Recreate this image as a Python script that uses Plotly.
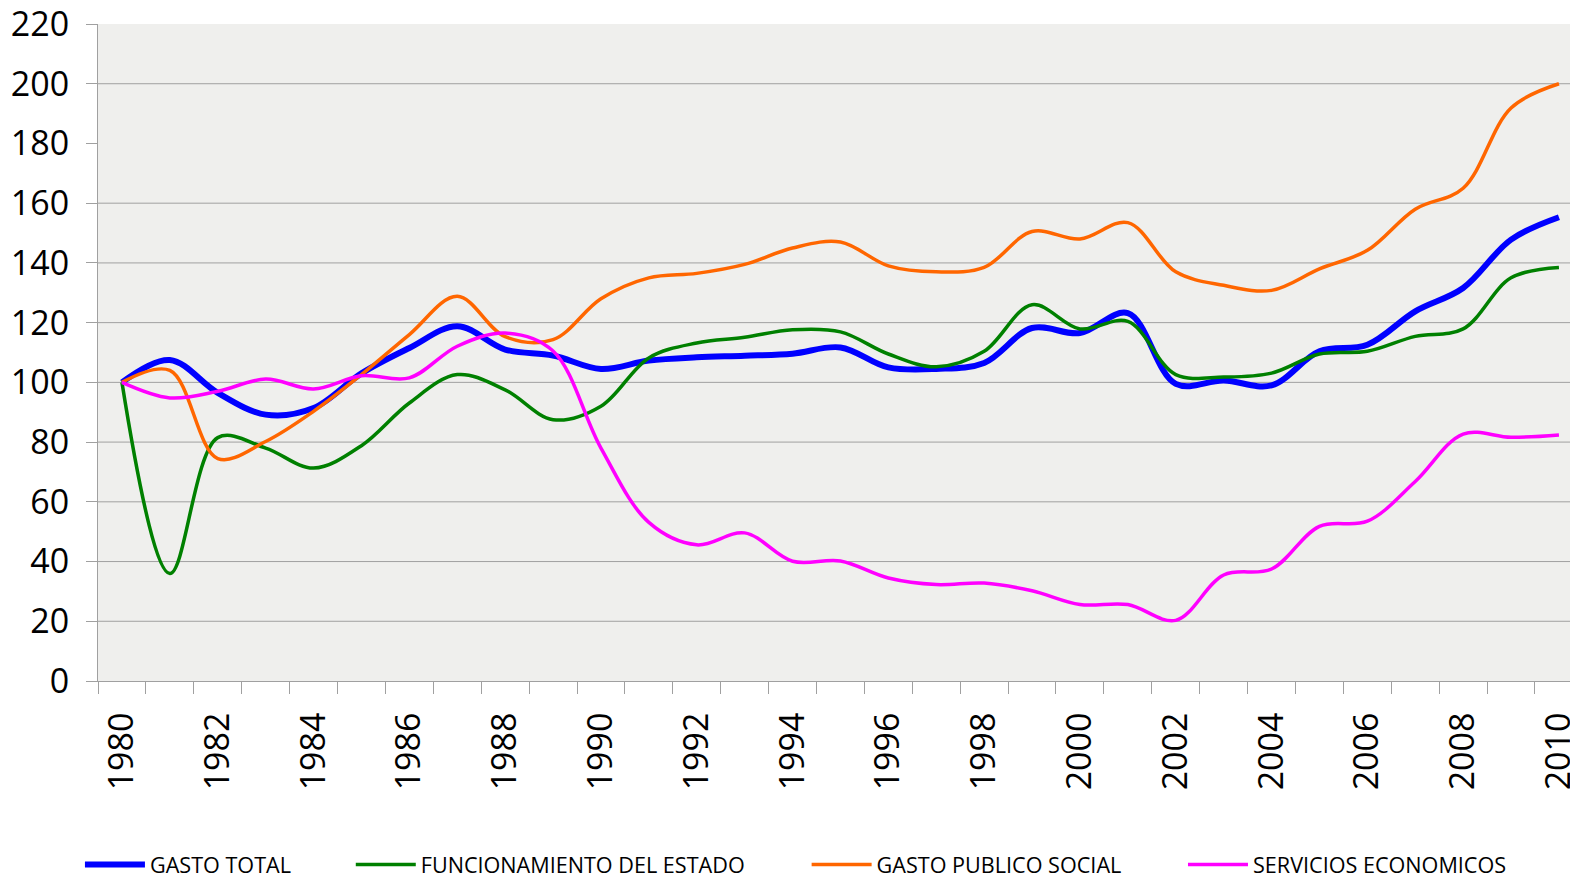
import plotly.graph_objects as go

years = list(range(1980, 2011))
year_labels = [str(y) for y in range(1980, 2011, 2)]

gasto_total = [100, 107.5, 96.5, 89.2, 91.4, 103, 111.5, 118.8, 111, 109,
               104.5, 107.3, 108.4, 108.9, 109.6, 111.7, 105, 104.5, 106.5, 118.2,
               116.5, 123.2, 99.5, 100.6, 99, 110.4, 112.6, 123.8, 131.6, 147.8, 155.3]
funcionamiento = [100, 36, 81.5, 78, 71.3, 78.8, 93.1, 102.6, 97.5, 87.5,
                  92, 108.2, 113.2, 115.1, 117.6, 116.9, 109.5, 105.2, 110.4, 126,
                  117.9, 120.4, 102.6, 101.8, 103.1, 109.5, 110.4, 115.4, 117.9, 135, 138.5]
gasto_social = [100, 104, 74.5, 80.2, 90.3, 102.6, 116, 128.8, 115.3, 114.3,
                128, 135, 136.5, 139.5, 145, 147, 139, 137, 138.5, 150.5,
                148, 153.5, 137, 132.5, 130.8, 138, 144.2, 158, 165, 191.9, 200]
servicios = [100, 94.8, 97, 101.1, 97.8, 102.2, 101.5, 112.1, 116.5, 110.5,
             78, 53.1, 45.6, 49.6, 40.1, 40.2, 34.5, 32.3, 32.8, 30.2,
             25.6, 25.6, 20.3, 35.5, 37.5, 51.8, 53.5, 66.8, 82.7, 81.6, 82.4]

y_ticks = list(range(0, 221, 20))
grid_values = [20, 40, 60, 80, 100, 120, 140, 160, 200]

series = [
    ("GASTO TOTAL", gasto_total, "#0000FF", 6, "legend"),
    ("FUNCIONAMIENTO DEL ESTADO", funcionamiento, "#008000", 3.5, "legend2"),
    ("GASTO PUBLICO SOCIAL", gasto_social, "#FF6600", 3.5, "legend3"),
    ("SERVICIOS ECONOMICOS", servicios, "#FF00FF", 3.5, "legend4"),
]

fig = go.Figure()
for name, vals, color, w, lg in series:
    fig.add_trace(go.Scatter(
        x=years, y=vals, name=name, mode="lines",
        line=dict(color=color, width=w, shape="spline", smoothing=1.0),
        legend=lg, showlegend=True,
    ))

grid_color = "#A0A0A0"
for v in grid_values:
    fig.add_shape(type="line", xref="paper", x0=0, x1=1, yref="y", y0=v, y1=v,
                  line=dict(color=grid_color, width=1), layer="below")

tick_font = dict(family="Open Sans", size=34, color="#000000")
legend_font = dict(family="Open Sans", size=21.6, color="#000000")

leg_common = dict(orientation="h", yanchor="middle", y=-0.2801, xanchor="left",
                  itemwidth=60,
                  font=legend_font, bgcolor="rgba(0,0,0,0)", borderwidth=0)

# the page body adds an 8px offset, so the figure is sized to fit the window
fig.update_layout(
    width=1570, height=870,
    margin=dict(l=90, r=0, t=16, b=197, autoexpand=False),
    paper_bgcolor="#FFFFFF",
    plot_bgcolor="#EFEFED",
    showlegend=True,
    legend=dict(x=-0.0122, **leg_common),
    legend2=dict(x=0.1708, **leg_common),
    legend3=dict(x=0.4788, **leg_common),
    legend4=dict(x=0.7331, **leg_common),
    xaxis=dict(
        range=[1979.5, 2010.398],
        tickmode="array", tickvals=list(range(1980, 2011, 2)), ticktext=year_labels,
        tickangle=-90, tickfont=tick_font, ticks="", ticklabelstandoff=17,
        ticklabeloverflow="allow", automargin=False,
        showgrid=False, zeroline=False,
        showline=True, linecolor=grid_color, linewidth=1,
        minor=dict(tick0=1979.5, dtick=1, ticks="outside", ticklen=12,
                   tickcolor=grid_color, tickwidth=1, showgrid=False),
    ),
    yaxis=dict(
        range=[0, 220], tickmode="array", tickvals=y_ticks,
        ticks="outside", ticklen=11, tickcolor=grid_color, tickwidth=1,
        tickfont=tick_font, ticklabelstandoff=10,
        ticklabeloverflow="allow", automargin=False,
        showgrid=False, zeroline=False,
        showline=True, linecolor=grid_color, linewidth=1,
    ),
)

fig.write_html("out.html")
